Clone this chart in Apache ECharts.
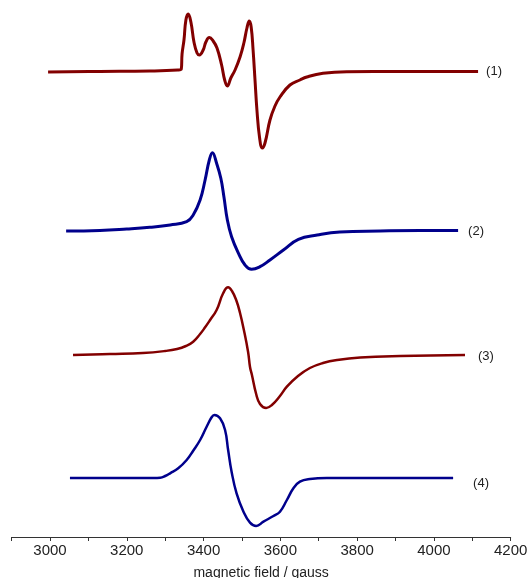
<!DOCTYPE html>
<html>
<head>
<meta charset="utf-8">
<script src="https://cdn.jsdelivr.net/npm/echarts@6/dist/echarts.min.js"></script>
<style>html,body{margin:0;padding:0;background:#fff;overflow:hidden;}#c{width:528px;height:578px;}</style>
</head>
<body>
<div id="c"></div>
<script>
// x-axis tick values (gauss)
const tickLabels = [3000, 3200, 3400, 3600, 3800, 4000, 4200];
const seriesNames = ['(1)', '(2)', '(3)', '(4)'];

// Spectrum (1) — field (G) and offset signal (a.u.)
const field1 = [2995,3130,3260,3333,3342,3344,3349,3354,3360,3367,3375,3383,3389,3399,3406,3415,3425,3435,3447,3455,3462,3471,3482,3495,3505,3513,3519,3524,3529,3534,3539,3546,3553,3560,3573,3586,3599,3625,3651,3669,3711,3773,3912,4115];
const sig1   = [465,465.5,466,467,468,483,497,517,523,515,495,484,482,487,495,499.5,496,489,472,457,451,459,467,480,494,509,516,510,487,457,427,399,389,394,417,431,440,452,457,460,463.7,465.3,465.5,465.5];

// Spectrum (2)
const field2 = [3042,3130,3200,3260,3313,3356,3373,3391,3404,3415,3423,3434,3445,3453,3462,3473,3491,3508,3525,3547,3573,3608,3647,3696,3755,3860,3964,4063];
const sig2   = [306,306.5,308,309.7,312,315.3,322,337,357,377,384.3,373.7,358.7,340.3,317,300.3,283.7,272,267.7,270.3,277,287,297.7,302,305,306,306.5,306.5];

// Spectrum (3)
const field3 = [3060,3156,3242,3300,3331,3354,3373,3391,3404,3417,3434,3451,3464,3474,3485,3495,3505,3516,3521,3526,3537,3547,3563,3578,3599,3617,3646,3677,3711,3748,3808,3912,4081];
const sig3   = [182,183,184,186,188,191,195.3,203,209.7,217,227,243.7,249.7,246,237,224,207,185,170,162,143,133,129,132,141,150.3,161,169,174,177,179.5,181,182];

// Spectrum (4)
const field4 = [3052,3182,3270,3287,3300,3313,3334,3356,3373,3391,3408,3421,3428,3443,3456,3464,3473,3486,3504,3521,3537,3556,3582,3599,3617,3634,3651,3677,3721,3912,4050];
const sig4   = [59,59,59,59.3,61,63.7,68.7,77,86.3,97,110.3,119.7,122,118.7,107,87,65.3,43.7,25.3,14.3,11,15.3,21,25.3,37,48.7,55.3,58,59,59,59];

const RED = '#820000', BLUE = '#00008c';
function pairs(f, s){ return f.map((b,i)=>[b, s[i]]); }

const specs = [
  {f: field1, s: sig1, color: RED,  w: 3,   dist: 8,  off: [0, 0]},
  {f: field2, s: sig2, color: BLUE, w: 3,   dist: 10, off: [0, 1]},
  {f: field3, s: sig3, color: RED,  w: 2.5, dist: 13, off: [0, 1]},
  {f: field4, s: sig4, color: BLUE, w: 2.5, dist: 20, off: [0, 5]}
];

const chart = echarts.init(document.getElementById('c'), null, {renderer: 'canvas'});
chart.setOption({
  animation: false,
  backgroundColor: '#fff',
  grid: {left: 11.6, right: 17.3, top: 0, bottom: 41, containLabel: false, outerBoundsMode: 'none'},
  xAxis: {
    type: 'value', min: 2900, max: 4200, interval: 100,
    name: 'magnetic field / gauss', nameLocation: 'middle', nameGap: 29,
    nameTextStyle: {fontFamily: 'Liberation Sans, Arial, sans-serif', fontSize: 14, color: '#222'},
    axisLine: {show: true, onZero: false, lineStyle: {color: '#333', width: 1}},
    axisTick: {show: true, inside: false, length: 4, lineStyle: {color: '#333'}},
    splitLine: {show: false},
    axisLabel: {
      margin: 6, fontFamily: 'Liberation Sans, Arial, sans-serif', fontSize: 15, color: '#222',
      showMinLabel: true, showMaxLabel: true,
      formatter: v => tickLabels.indexOf(v) >= 0 ? String(v) : ''
    }
  },
  yAxis: {type: 'value', min: 0, max: 537, show: false},
  series: specs.map((sp, i) => ({
    type: 'line', name: seriesNames[i], data: pairs(sp.f, sp.s),
    showSymbol: false, smooth: 0.45,
    lineStyle: {color: sp.color, width: sp.w},
    itemStyle: {color: sp.color},
    endLabel: {
      show: true, formatter: seriesNames[i], distance: sp.dist, offset: sp.off,
      fontFamily: 'Liberation Sans, Arial, sans-serif', fontSize: 13, color: '#222'
    }
  }))
});
</script>
</body>
</html>
